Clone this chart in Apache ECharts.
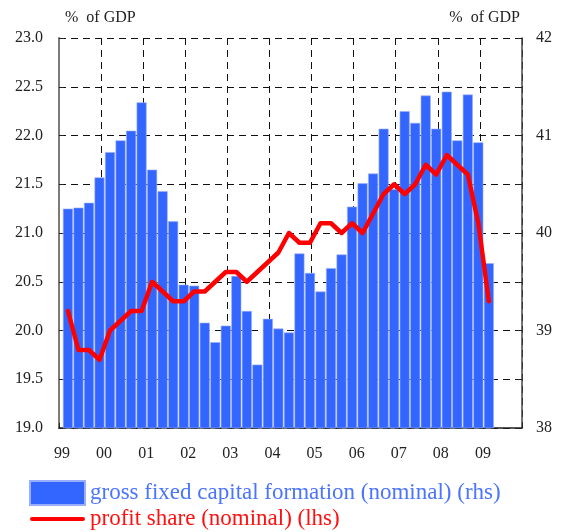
<!DOCTYPE html>
<html>
<head>
<meta charset="utf-8">
<script src="https://cdn.jsdelivr.net/npm/echarts@6/dist/echarts.min.js"></script>
<style>
  html, body { margin: 0; padding: 0; background: #fff; }
  #chart { width: 568px; height: 532px; }
</style>
</head>
<body>
<div id="chart"></div>
<script>
'use strict';

// quarterly, 1999Q1 .. 2009Q1
var yearLabels = ['99', '00', '01', '02', '03', '04', '05', '06', '07', '08', '09'];
var investment = [
  40.25, 40.26, 40.31, 40.57, 40.83, 40.95, 41.05, 41.34,
  40.65, 40.43, 40.12, 39.47, 39.46, 39.08, 38.88, 39.05,
  39.56, 39.20, 38.65, 39.12, 39.02, 38.98, 39.79, 39.59,
  39.40, 39.64, 39.78, 40.27, 40.51, 40.61, 41.07, 40.45,
  41.25, 41.13, 41.41, 41.07, 41.45, 40.95, 41.42, 40.93,
  39.69
];
var profitShare = [
  20.2, 19.8, 19.8, 19.7, 20.0, 20.1, 20.2, 20.2,
  20.5, 20.4, 20.3, 20.3, 20.4, 20.4, 20.5, 20.6,
  20.6, 20.5, 20.6, 20.7, 20.8, 21.0, 20.9, 20.9,
  21.1, 21.1, 21.0, 21.1, 21.0, 21.2, 21.4, 21.5,
  21.4, 21.5, 21.7, 21.6, 21.8, 21.7, 21.6, 21.1,
  20.3
];
var barName = 'gross fixed capital formation (nominal) (rhs)';
var lineName = 'profit share (nominal) (lhs)';

var chartPage = {
  build: function(){
    var font = '"Liberation Serif", "DejaVu Serif", serif';
    var dash = [7, 5];
    var shift = 0.85; // marks sit a bit right of the quarter start
    var toPoints = function(arr){
      return arr.map(function(v, i){ return [i + shift, v]; });
    };
    var chart = echarts.init(document.getElementById('chart'));
    var option = {
      animation: false,
      textStyle: { fontFamily: font },
      grid: { left: 59, right: 46, top: 38, bottom: 104 },
      legend: {
        orient: 'vertical',
        left: 29,
        top: 480,
        padding: 0,
        itemWidth: 55,
        itemHeight: 24,
        itemGap: 1,
        selectedMode: false,
        data: [
          { name: barName, icon: 'rect',
            textStyle: { color: '#4b74ff', fontSize: 23, lineHeight: 24, fontFamily: font } },
          { name: lineName, icon: 'path://M2,0 L53,0 A2,2 0 0 1 53,4 L2,4 A2,2 0 0 1 2,0 Z',
            itemStyle: { color: '#ff0000' },
            textStyle: { color: '#ff1010', fontSize: 23, lineHeight: 24, fontFamily: font } }
        ]
      },
      xAxis: {
        type: 'value',
        min: 0,
        max: 44,
        interval: 4,
        axisLine: { show: true, lineStyle: { color: '#222', width: 1.5 } },
        axisTick: { show: true, inside: true, length: 5, lineStyle: { color: '#222' } },
        axisLabel: {
          margin: 18,
          color: '#222',
          fontSize: 16,
          fontFamily: font,
          padding: [0, 0, 0, 6],
          formatter: function(v){
            var k = Math.round(v / 4);
            return yearLabels[k] || '';
          }
        },
        splitLine: { show: true, lineStyle: { color: '#111', type: dash, width: 1 } }
      },
      yAxis: [
        {
          type: 'value',
          min: 19,
          max: 23,
          interval: 0.5,
          name: '%  of GDP',
          nameLocation: 'end',
          nameGap: 12,
          nameTextStyle: { align: 'left', color: '#222', fontSize: 16, fontFamily: font, padding: [0, 0, 0, 6] },
          axisLine: { show: true, lineStyle: { color: '#7a7a7a', width: 2 } },
          axisTick: { show: true, inside: true, length: 5, lineStyle: { color: '#222' } },
          axisLabel: {
            margin: 16,
            color: '#222',
            fontSize: 16,
            fontFamily: font,
            formatter: function(v){ return v.toFixed(1); }
          },
          splitLine: { show: true, lineStyle: { color: '#111', type: dash, width: 1 } }
        },
        {
          type: 'value',
          min: 38,
          max: 42,
          interval: 0.5,
          name: '%  of GDP',
          nameLocation: 'end',
          nameGap: 12,
          nameTextStyle: { align: 'right', color: '#222', fontSize: 16, fontFamily: font, padding: [0, 2, 0, 0] },
          axisLine: { show: true, lineStyle: { color: '#444', width: 1.5 } },
          axisTick: { show: true, inside: true, length: 6, lineStyle: { color: '#222' } },
          axisLabel: {
            margin: 14,
            color: '#222',
            fontSize: 16,
            fontFamily: font,
            formatter: function(v){ return (v % 1 === 0) ? String(v) : ''; }
          },
          splitLine: { show: false }
        }
      ],
      series: [
        {
          name: barName,
          type: 'bar',
          yAxisIndex: 1,
          barWidth: 10,
          itemStyle: { color: '#3366ff', borderColor: '#9aaeff', borderWidth: 0.6 },
          data: toPoints(investment)
        },
        {
          name: lineName,
          type: 'line',
          yAxisIndex: 0,
          showSymbol: false,
          symbol: 'none',
          z: 5,
          lineStyle: { color: '#ff0000', width: 4.5, join: 'round', cap: 'round' },
          itemStyle: { color: '#ff0000' },
          data: toPoints(profitShare)
        }
      ]
    };
    chart.setOption(option);
  },
  init: function(){
    var me = this;
    me.build();
    return me;
  }
};

chartPage.init();
</script>
</body>
</html>
